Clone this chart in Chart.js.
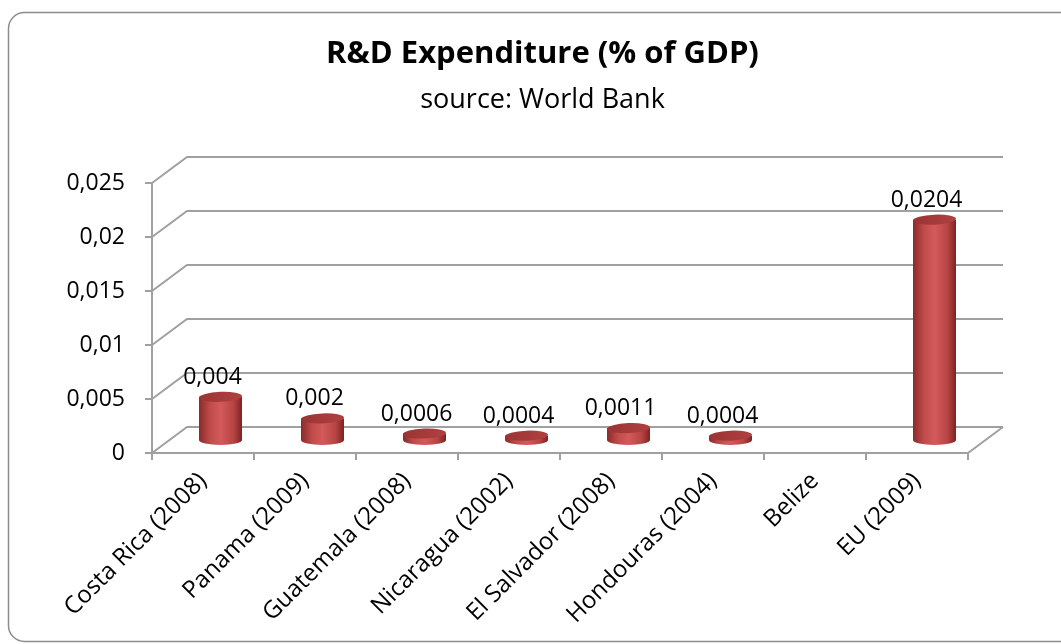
<!DOCTYPE html>
<html>
<head>
<meta charset="utf-8">
<title>R&amp;D Expenditure</title>
<script src="https://cdn.jsdelivr.net/npm/chart.js@4.4.0/dist/chart.umd.min.js"></script>
<style>
  body { margin: 0; background: #fff; overflow: hidden; }
  canvas { display: block; }
</style>
</head>
<body>
<canvas id="canvas" width="1061" height="644"></canvas>
<script>
// data
var countries = ["Costa Rica (2008)", "Panama (2009)", "Guatemala (2008)", "Nicaragua (2002)",
                 "El Salvador (2008)", "Hondouras (2004)", "Belize", "EU (2009)"];
var rdShare = [0.004, 0.002, 0.0006, 0.0004, 0.0011, 0.0004, null, 0.0204];
var rdLabels = ["0,004", "0,002", "0,0006", "0,0004", "0,0011", "0,0004", "", "0,0204"];
var yTickLabels = ["0", "0,005", "0,01", "0,015", "0,02", "0,025"];

// 3d look
var depthX = 35, depthY = -26;
var gridColor = "#a0a0a0";

Chart.defaults.font.family = "'Open Sans', sans-serif";
Chart.defaults.color = "#000";

function frame(chart){
  var ctx = chart.ctx;
  var x = chart.scales.x, y = chart.scales.y;
  var left = x.left, right = x.right, bottom = y.getPixelForValue(0);
  ctx.save();
  ctx.strokeStyle = gridColor;
  ctx.lineWidth = 2;
  // walls + gridlines
  y.ticks.forEach(function(t){
    var py = Math.round(y.getPixelForValue(t.value));
    ctx.beginPath();
    ctx.moveTo(left, py);
    ctx.lineTo(left + depthX, py + depthY);
    ctx.lineTo(right + depthX, py + depthY);
    ctx.stroke();
    // tick
    ctx.beginPath();
    ctx.moveTo(left - 7, py);
    ctx.lineTo(left, py);
    ctx.stroke();
  });
  // front axis and floor
  ctx.beginPath();
  ctx.moveTo(left, y.getPixelForValue(0.025));
  ctx.lineTo(left, bottom);
  ctx.lineTo(right, bottom);
  ctx.lineTo(right + depthX, bottom + depthY);
  ctx.stroke();
  var step = (right - left) / countries.length;
  for (var i = 0; i <= countries.length; i++){
    var px = Math.round(left + i * step);
    ctx.beginPath();
    ctx.moveTo(px, bottom);
    ctx.lineTo(px, bottom + 7);
    ctx.stroke();
  }
  ctx.restore();
}

function cylinders(chart){
  var ctx = chart.ctx;
  var meta = chart.getDatasetMeta(0);
  var r = 21.5, ry = 5;
  ctx.save();
  meta.data.forEach(function(bar, i){
    if (rdShare[i] === null) return;
    var cx = bar.x + depthX / 2;
    var top = bar.y + depthY / 2;
    var base = bar.base + depthY / 2;

    var g = ctx.createLinearGradient(cx - r, 0, cx + r, 0);
    g.addColorStop(0, "#8a2b2b");
    g.addColorStop(0.25, "#c04a4a");
    g.addColorStop(0.5, "#d45a5a");
    g.addColorStop(0.8, "#b84444");
    g.addColorStop(1, "#7c2323");
    ctx.beginPath();
    ctx.moveTo(cx - r, top);
    ctx.lineTo(cx - r, base);
    ctx.ellipse(cx, base, r, ry, 0, Math.PI, 0, true);
    ctx.lineTo(cx + r, top);
    ctx.closePath();
    ctx.fillStyle = g;
    ctx.fill();

    var tg = ctx.createLinearGradient(cx - r, 0, cx + r, 0);
    tg.addColorStop(0, "#9a3434");
    tg.addColorStop(1, "#b14040");
    ctx.beginPath();
    ctx.ellipse(cx, top, r, ry, -0.04, 0, Math.PI * 2);
    ctx.fillStyle = tg;
    ctx.fill();

    ctx.fillStyle = "#000";
    ctx.font = "23px 'Open Sans', sans-serif";
    ctx.textAlign = "center";
    ctx.textBaseline = "alphabetic";
    ctx.fillText(rdLabels[i], cx - 8, top - ry - 8);
  });
  ctx.restore();
}

function border(chart){
  var ctx = chart.ctx;
  ctx.save();
  ctx.strokeStyle = "#8c8c8c";
  ctx.lineWidth = 1.5;
  ctx.beginPath();
  ctx.roundRect(8.5, 12.5, 1300, 629, 16);
  ctx.stroke();
  ctx.restore();
}

var config = {
  type: "bar",
  data: {
    labels: countries,
    datasets: [{
      label: "R&D",
      data: rdShare,
      backgroundColor: "rgba(0,0,0,0)",
      borderWidth: 0
    }]
  },
  options: {
    responsive: false,
    animation: false,
    layout: { padding: { left: 24, right: 0, top: 0, bottom: 0 } },
    plugins: {
      legend: { display: false },
      tooltip: { enabled: false },
      title: {
        display: true,
        text: "R&D Expenditure (% of GDP)",
        font: { size: 31, weight: "bold" },
        padding: { top: 36, bottom: 0 }
      },
      subtitle: {
        display: true,
        text: "source: World Bank",
        font: { size: 27 },
        padding: { top: 10.6, bottom: 66.8 }
      }
    },
    scales: {
      x: {
        grid: { display: false, drawTicks: false },
        border: { display: false },
        ticks: { autoSkip: false, minRotation: 45, maxRotation: 45, padding: 14, font: { size: 24 } },
        afterFit: function(s){ s.height = 191; }
      },
      y: {
        min: 0,
        max: 0.025,
        grid: { display: false, drawTicks: false },
        border: { display: false },
        ticks: {
          stepSize: 0.005,
          padding: 27,
          font: { size: 23 },
          callback: function(v, i){ return yTickLabels[i]; }
        },
        afterFit: function(s){ s.width = 128; }
      },
      right: {
        position: "right",
        grid: { display: false },
        border: { display: false },
        ticks: { display: false },
        afterFit: function(s){ s.width = 93; }
      }
    }
  },
  plugins: [{
    id: "excel3d",
    beforeDraw: border,
    beforeDatasetsDraw: frame,
    afterDatasetsDraw: cylinders
  }]
};

new Chart(document.getElementById("canvas"), config);
</script>
</body>
</html>
